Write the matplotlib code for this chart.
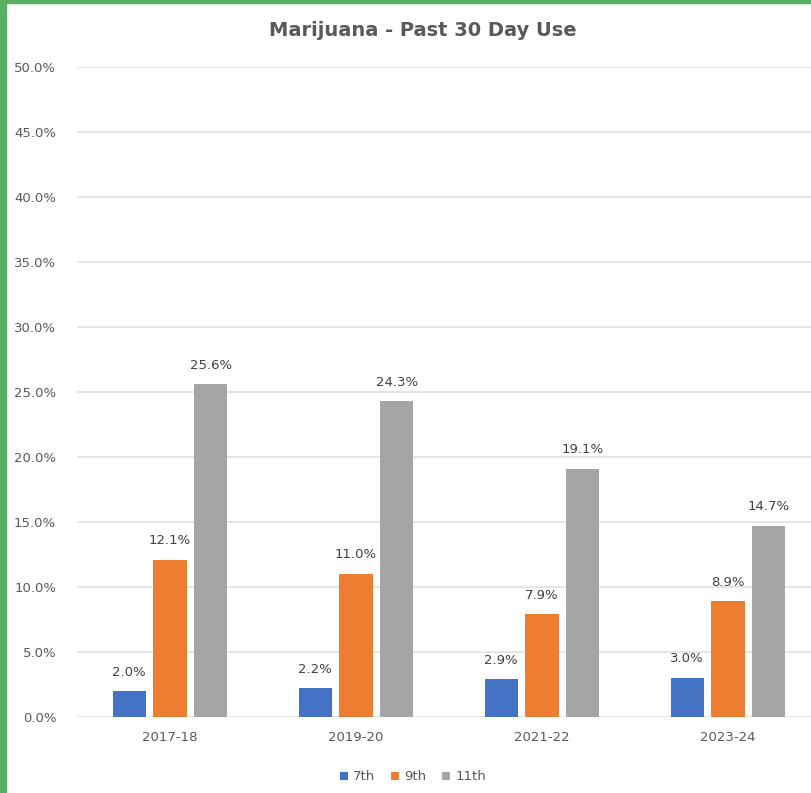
import matplotlib.pyplot as plt
from matplotlib.patches import Rectangle

years = ["2017-18", "2019-20", "2021-22", "2023-24"]
grades = ["7th", "9th", "11th"]
use_7th = [2.0, 2.2, 2.9, 3.0]
use_9th = [12.1, 11.0, 7.9, 8.9]
use_11th = [25.6, 24.3, 19.1, 14.7]
colors = ["#4472c4", "#ed7d31", "#a5a5a5"]

W, H = 811, 793
fig = plt.figure(figsize=(W / 100, H / 100), dpi=100)
ax = fig.add_axes([77 / W, 1 - 717 / H, 744 / W, 650 / H])

width = 0.178
step = 0.22
x = range(len(years))
series = [use_7th, use_9th, use_11th]
for i, (vals, c, g) in enumerate(zip(series, colors, grades)):
    pos = [xi + (i - 1) * step for xi in x]
    bars = ax.bar(pos, vals, width, color=c, label=g, zorder=3)
    for b, v in zip(bars, vals):
        ax.annotate(f"{v:.1f}%", (b.get_x() + b.get_width() / 2, v),
                    xytext=(0, 9), textcoords="offset points",
                    ha="center", va="bottom", fontsize=9.5, color="#404040")

ax.set_xlim(-0.5, 3.5)
ax.set_ylim(0, 50)
ax.set_yticks(range(0, 51, 5))
ax.set_yticklabels([f"{t:.1f}%" for t in range(0, 51, 5)])
ax.set_xticks(list(x))
ax.set_xticklabels(years)
ax.tick_params(length=0, labelsize=9.5, labelcolor="#595959")
ax.tick_params(axis="y", pad=15)
ax.tick_params(axis="x", pad=10)
ax.grid(axis="y", color="#e0e0e0", linewidth=1.2, zorder=0)
for s in ax.spines.values():
    s.set_visible(False)

fig.text(423 / W, 1 - 30 / H, "Marijuana - Past 30 Day Use", ha="center", va="center",
         fontsize=14, fontweight="bold", color="#595959")
fig.legend(loc="center", bbox_to_anchor=(413 / W, 1 - 777 / H), ncol=3, frameon=False,
           fontsize=9.5, handlelength=0.6, handleheight=0.6, handletextpad=0.4,
           columnspacing=1.2, labelcolor="#595959")

# green frame on left and top
fig.patches.append(Rectangle((0, 0), 6 / W, 1, transform=fig.transFigure, color="#5aae61", zorder=10))
fig.patches.append(Rectangle((0, 1 - 3 / H), 1, 3 / H, transform=fig.transFigure, color="#5aae61", zorder=10))

fig.savefig("out.png", dpi=100)
